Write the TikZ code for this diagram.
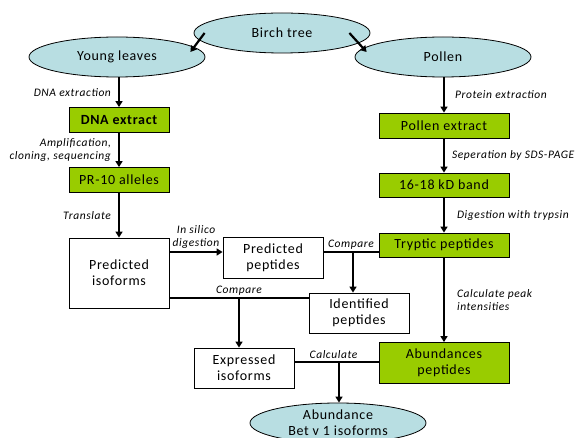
\documentclass[tikz,border=0pt]{standalone}
\usepackage{fontspec}
\setmainfont{Carlito}[LetterSpace=5]
\usetikzlibrary{shapes.geometric,arrows.meta}
\definecolor{skyfill}{RGB}{184,222,226}
\definecolor{leafgreen}{RGB}{153,204,0}
\tikzset{
  boxtext/.style={font=\fontsize{14}{15}\selectfont},
  steplabel/.style={font=\fontsize{11.5}{13}\selectfont\itshape},
  arr/.style={line width=2.2pt,-{Triangle[width=7pt,length=6pt]}},
  link/.style={line width=2.2pt}
}
\begin{document}
\begin{tikzpicture}[x=1pt,y=-1pt]

      \useasboundingbox (0,0) rectangle (578,438);

      \begin{scope}[every node/.style={ellipse,draw,fill=skyfill,line width=0.8pt,
          minimum width=176pt,minimum height=40pt,inner sep=0pt,align=center,boxtext}]
        \node (1)  at (282,33)  {Birch tree};
        \node (2)  at (117,57)  {Young leaves};
        \node (3)  at (443,57)  {Pollen};
        \node (14) at (338,423) {Abundance\\[1pt]Bet v 1 isoforms};
      \end{scope}

      \begin{scope}[every node/.style={rectangle,draw,fill=leafgreen,line width=0.8pt,
          inner sep=0pt,align=center,boxtext}]
        \node[minimum width=100pt,minimum height=25pt,font=\fontsize{14}{15}\selectfont\bfseries]
          (4)  at (119,120)   {DNA extract};
        \node[minimum width=100pt,minimum height=25pt] (5)  at (119,180)   {PR-10 alleles};
        \node[minimum width=130pt,minimum height=25pt] (10) at (444,125.5) {Pollen extract};
        \node[minimum width=130pt,minimum height=24pt] (11) at (444,185)   {16-18 kD band};
        \node[minimum width=130pt,minimum height=24pt] (12) at (444,245)   {Tryptic peptides};
        \node[minimum width=130pt,minimum height=41pt] (13) at (444,363)   {Abundances\\[1pt]peptides};
      \end{scope}

      \begin{scope}[every node/.style={rectangle,draw,fill=white,line width=0.8pt,
          inner sep=0pt,align=center,boxtext}]
        \node[minimum width=100pt,minimum height=70pt] (6) at (119,273)   {Predicted\\[1pt]isoforms};
        \node[minimum width=100pt,minimum height=41pt] (7) at (273,257.5) {Predicted\\[1pt]peptides};
        \node[minimum width=100pt,minimum height=40pt] (8) at (359,313)   {Identified\\[1pt]peptides};
        \node[minimum width=100pt,minimum height=40pt] (9) at (244,368)   {Expressed\\[1pt]isoforms};
      \end{scope}

      \coordinate (c1) at (353,252);
      \coordinate (c2) at (239,298);
      \coordinate (c3) at (339,362);

      \begin{scope}[every node/.style={steplabel,align=center,inner sep=2pt}]
        \draw[arr] ([shift={(11,0)}]1.west) -- ([shift={(-15,-5)}]2.east);
        \draw[arr] ([shift={(-21,0)}]1.east) -- ([shift={(12,-5)}]3.west);

        \draw[arr] (4.north |- 2.south) -- node[left=5pt] {DNA extraction} (4.north);
        \draw[arr] (4) -- node[left=5pt,align=right] {Amplification,\\cloning, sequencing} (5);
        \draw[arr] (5) -- node[left=5pt] {Translate} (6);

        \draw[arr] (10.north |- 3.south) -- node[right=8pt] {Protein extraction} (10.north);
        \draw[arr] (10) -- node[right=5pt] {Seperation by SDS-PAGE} (11);
        \draw[arr] (11) -- node[right=10pt] {Digestion with trypsin} (12);
        \draw[arr] (12) -- node[right=10pt,align=left] {Calculate peak\\intensities} (13);

        \draw[arr] (6.east |- c1) -- node[above] {In silico\\digestion} (7.west |- c1);
        \draw[link] (7.east |- c1) -- node[above] {Compare} (12.west |- c1);
        \draw[arr] (c1) -- (c1 |- 8.north);

        \draw[link] (6.east |- c2) -- node[above] {Compare} (8.west |- c2);
        \draw[arr] (c2) -- (c2 |- 9.north);

        \draw[link] (9.east |- c3) -- node[above,xshift=-3pt] {Calculate} (13.west |- c3);
        \draw[arr] (c3) -- (c3 |- 14.north);
      \end{scope}

    \end{tikzpicture}
\end{document}
